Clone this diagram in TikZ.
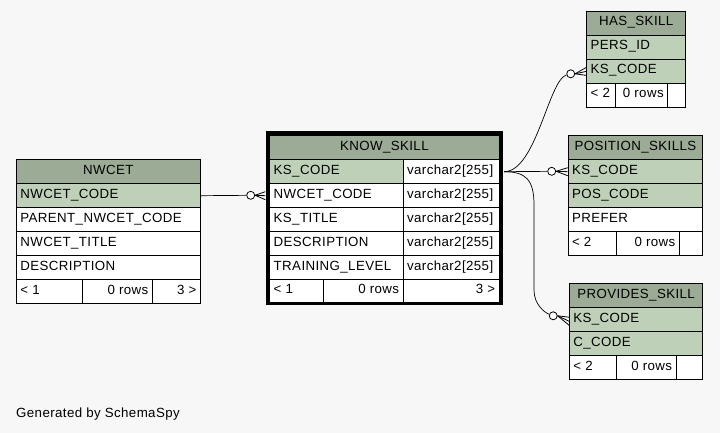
\documentclass[tikz,border=0pt]{standalone}
\usepackage{fontspec}
\newfontfamily\tfont[LetterSpace=3]{Liberation Sans}
\definecolor{hdr}{HTML}{9BAB96}
\definecolor{keyc}{HTML}{BED1B8}
\definecolor{bgc}{HTML}{F7F7F7}
\tikzset{
  cellbase/.style={draw=black, line width=0.8pt, anchor=north west, inner xsep=4pt, inner ysep=0pt,
    text height=8pt, text depth=3pt, font=\tfont\fontsize{13.3pt}{15pt}\selectfont},
  edge/.style={draw=black, line width=0.7pt},
  ring/.style={circle, draw=black, fill=white, line width=0.8pt, minimum size=8pt, inner sep=0pt},
  crow/.style={draw=black, line width=0.8pt}
}
% name, x, y, width, height, fill, align(l/c/r), text
\newcommand\tcell[8]{\node[cellbase, fill=#6, minimum height=#5pt] (#1) at (#2,#3) {\makebox[\dimexpr#4pt-8pt\relax][#7]{#8}};}
\begin{document}
\begin{tikzpicture}[x=1pt,y=-1pt]
\fill[bgc] (0,0) rectangle (720,433);
\useasboundingbox (0,0) rectangle (720,433);

% NWCET
\tcell{nw-h}{16}{159.3}{184}{24}{hdr}{c}{NWCET}
\tcell{nw-1}{16}{183.3}{184}{24}{keyc}{l}{NWCET\_CODE}
\tcell{nw-2}{16}{207.3}{184}{24}{white}{l}{PARENT\_NWCET\_CODE}
\tcell{nw-3}{16}{231.3}{184}{24}{white}{l}{NWCET\_TITLE}
\tcell{nw-4}{16}{255.3}{184}{24}{white}{l}{DESCRIPTION}
\tcell{nw-f1}{16}{279.3}{66}{24}{white}{l}{< 1}
\tcell{nw-f2}{82}{279.3}{70}{24}{white}{r}{0 rows}
\tcell{nw-f3}{152}{279.3}{48}{24}{white}{r}{3 >}

% KNOW_SKILL
\tcell{ks-h}{269.3}{135.3}{229.4}{24}{hdr}{c}{KNOW\_SKILL}
\tcell{ks-n1}{269.3}{159.3}{133.4}{24}{keyc}{l}{KS\_CODE}
\tcell{ks-t1}{402.7}{159.3}{96}{24}{white}{l}{varchar2[255]}
\tcell{ks-n2}{269.3}{183.3}{133.4}{24}{white}{l}{NWCET\_CODE}
\tcell{ks-t2}{402.7}{183.3}{96}{24}{white}{l}{varchar2[255]}
\tcell{ks-n3}{269.3}{207.3}{133.4}{24}{white}{l}{KS\_TITLE}
\tcell{ks-t3}{402.7}{207.3}{96}{24}{white}{l}{varchar2[255]}
\tcell{ks-n4}{269.3}{231.3}{133.4}{24}{white}{l}{DESCRIPTION}
\tcell{ks-t4}{402.7}{231.3}{96}{24}{white}{l}{varchar2[255]}
\tcell{ks-n5}{269.3}{255.3}{133.4}{24}{white}{l}{TRAINING\_LEVEL}
\tcell{ks-t5}{402.7}{255.3}{96}{24}{white}{l}{varchar2[255]}
\tcell{ks-f1}{269.3}{279.3}{54}{22.4}{white}{l}{< 1}
\tcell{ks-f2}{323.3}{279.3}{79.4}{22.4}{white}{r}{0 rows}
\tcell{ks-f3}{402.7}{279.3}{96}{22.4}{white}{r}{3 >}
\draw[line width=3.4pt] (267.2,133.0) rectangle (501.3,303.5);

% HAS_SKILL
\tcell{hs-h}{586.3}{11}{99}{24}{hdr}{c}{HAS\_SKILL}
\tcell{hs-1}{586.3}{35}{99}{24}{keyc}{l}{PERS\_ID}
\tcell{hs-2}{586.3}{59}{99}{24}{keyc}{l}{KS\_CODE}
\tcell{hs-f1}{586.3}{83}{29}{24}{white}{l}{< 2}
\tcell{hs-f2}{615.3}{83}{52}{24}{white}{r}{0 rows}
\tcell{hs-f3}{667.3}{83}{18}{24}{white}{r}{}

% POSITION_SKILLS
\tcell{ps-h}{567.7}{135.3}{134.6}{24}{hdr}{c}{POSITION\_SKILLS}
\tcell{ps-1}{567.7}{159.3}{134.6}{24}{keyc}{l}{KS\_CODE}
\tcell{ps-2}{567.7}{183.3}{134.6}{24}{keyc}{l}{POS\_CODE}
\tcell{ps-3}{567.7}{207.3}{134.6}{24}{white}{l}{PREFER}
\tcell{ps-f1}{567.7}{231.3}{48}{24}{white}{l}{< 2}
\tcell{ps-f2}{615.7}{231.3}{63.3}{24}{white}{r}{0 rows}
\tcell{ps-f3}{679}{231.3}{23.3}{24}{white}{r}{}

% PROVIDES_SKILL
\tcell{pv-h}{569}{283.3}{133.3}{24}{hdr}{c}{PROVIDES\_SKILL}
\tcell{pv-1}{569}{307.3}{133.3}{24}{keyc}{l}{KS\_CODE}
\tcell{pv-2}{569}{331.3}{133.3}{24}{keyc}{l}{C\_CODE}
\tcell{pv-f1}{569}{355.3}{46.7}{24}{white}{l}{< 2}
\tcell{pv-f2}{615.7}{355.3}{60}{24}{white}{r}{0 rows}
\tcell{pv-f3}{675.7}{355.3}{26.6}{24}{white}{r}{}

% footer text
\node[font=\tfont\fontsize{13.3pt}{15pt}\selectfont, anchor=base west, inner sep=0pt] (gen) at (16,417) {Generated by SchemaSpy};

% rings
\node[ring] (c1) at (250.7,195.3) {};
\node[ring] (c2) at (570.7,73.8) {};
\node[ring] (c3) at (551.7,171.3) {};
\node[ring] (c4) at (553.2,315.8) {};

\coordinate (ksout) at ([xshift=4.6pt]ks-t1.east);

% edges
\draw[edge] (nw-1.east) -- (c1);
\draw[edge] (ksout) .. controls +(32,0) and +(-22,6) .. (c2);
\draw[edge] (ksout) -- (c3);
\draw[edge] (ksout) .. controls +(22,0) and +(0,-25) .. (534,205) -- (534,290) .. controls +(0,15) and +(-8,-3) .. (c4);

% crow's feet
\foreach \d in {-4,0,4}{
  \draw[crow] (c1.east) -- ([xshift=-4pt,yshift=\d pt]ks-n2.west);
  \draw[crow] (c2.east) -- ([yshift=\d pt]hs-2.west);
  \draw[crow] (c3.east) -- ([yshift=\d pt]ps-1.west);
  \draw[crow] (c4.east) -- ([yshift=\d pt - 1.5pt]pv-1.west);
}
\end{tikzpicture}
\end{document}
